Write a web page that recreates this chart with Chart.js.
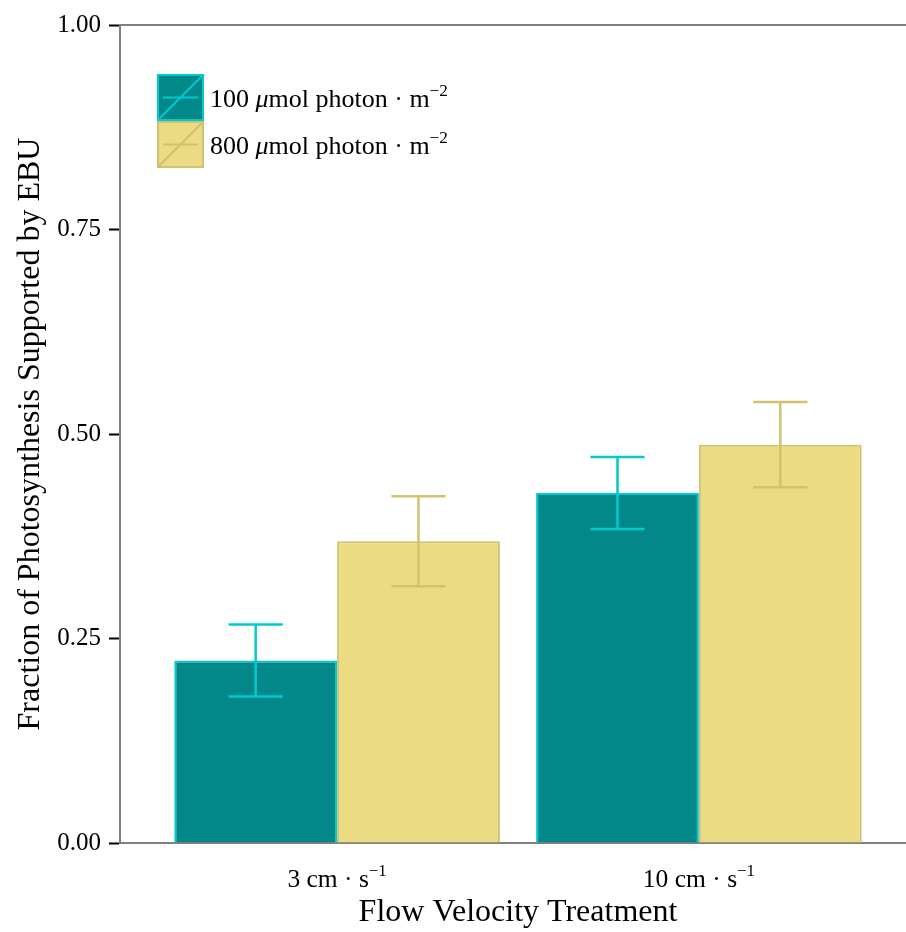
<!DOCTYPE html>
<html>
<head>
<meta charset="utf-8">
<script src="https://cdn.jsdelivr.net/npm/chart.js@4.4.1/dist/chart.umd.min.js"></script>
<style>
  html, body { margin: 0; padding: 0; background: #fff; overflow: hidden; }
  #wrap { width: 916px; height: 932px; }
</style>
</head>
<body>
<div id="wrap"><canvas id="ebuChart"></canvas></div>
<script>
// Flow treatments (x positions) and their labels
const flowPositions = [1, 2];
const flowLabels = ['3 cm · s', '10 cm · s'];
const flowExponent = '−1';

// Light treatments
const lightLevels = ['100', '800'];

// Mean fraction of photosynthesis supported by EBU and error (±)
const lowLightMeans = [0.223, 0.428];
const lowLightErrors = [0.044, 0.044];
const highLightMeans = [0.369, 0.487];
const highLightErrors = [0.055, 0.052];

const yTicks = [0, 0.25, 0.5, 0.75, 1];

const colors = {
    tealFill: '#03888a',
    tealLine: '#00c9cf',
    sandFill: '#ebdb83',
    sandLine: '#d1c272',
    axis: '#808080'
};

const serif = '"Liberation Serif", "Times New Roman", serif';

// text runs made of plain / italic / superscript pieces
function richWidth(ctx, parts, size) {
    let w = 0;
    parts.forEach(p => {
        ctx.font = (p.italic ? 'italic ' : '') + (p.sup ? size * 0.66 : size) + 'px ' + serif;
        w += ctx.measureText(p.t).width;
    });
    return w;
}
function drawRich(ctx, parts, x, baseline, size) {
    parts.forEach(p => {
        const fs = p.sup ? size * 0.66 : size;
        ctx.font = (p.italic ? 'italic ' : '') + fs + 'px ' + serif;
        ctx.fillText(p.t, x, p.sup ? baseline - size * 0.42 : baseline);
        x += ctx.measureText(p.t).width;
    });
}

const errorSets = [lowLightErrors, highLightErrors];

const extrasPlugin = {
    id: 'extras',
    beforeDatasetsDraw(chart) {
        const {ctx, chartArea} = chart;
        // top frame line
        ctx.save();
        ctx.strokeStyle = colors.axis;
        ctx.lineWidth = 2;
        ctx.beginPath();
        ctx.moveTo(chartArea.left, chartArea.top);
        ctx.lineTo(chartArea.right, chartArea.top);
        ctx.stroke();
        ctx.restore();
    },
    afterDatasetsDraw(chart) {
        const {ctx, scales} = chart;
        const y = scales.y;
        ctx.save();
        ctx.lineWidth = 2.5;
        chart.data.datasets.forEach((ds, i) => {
            const meta = chart.getDatasetMeta(i);
            ctx.strokeStyle = ds.borderColor;
            meta.data.forEach((bar, j) => {
                const v = ds.data[j].y;
                const e = errorSets[i][j];
                const top = y.getPixelForValue(v + e);
                const bot = y.getPixelForValue(v - e);
                const half = bar.width / 6;
                ctx.beginPath();
                ctx.moveTo(bar.x, top); ctx.lineTo(bar.x, bot);
                ctx.moveTo(bar.x - half, top); ctx.lineTo(bar.x + half, top);
                ctx.moveTo(bar.x - half, bot); ctx.lineTo(bar.x + half, bot);
                ctx.stroke();
            });
        });
        ctx.restore();
    },
    afterDraw(chart) {
        const {ctx, scales, chartArea} = chart;
        ctx.save();
        ctx.fillStyle = '#000';
        ctx.textBaseline = 'alphabetic';

        // x tick labels with superscript
        flowLabels.forEach((label, i) => {
            const parts = [{t: label}, {t: flowExponent, sup: true}];
            const w = richWidth(ctx, parts, 25.5);
            const cx = scales.x.getPixelForValue(flowPositions[i]);
            drawRich(ctx, parts, cx - w / 2, chartArea.bottom + 44, 25.5);
        });

        // legend
        const kx = chartArea.left + 37, ky = chartArea.top + 49, ks = 47;
        chart.data.datasets.forEach((ds, i) => {
            const top = ky + i * ks;
            ctx.fillStyle = ds.backgroundColor;
            ctx.fillRect(kx, top, ks, ks);
            ctx.strokeStyle = ds.borderColor;
            ctx.lineWidth = 2;
            ctx.strokeRect(kx + 1, top + 1, ks - 2, ks - 2);
            ctx.beginPath();
            ctx.moveTo(kx + 6, top + ks / 2); ctx.lineTo(kx + ks - 6, top + ks / 2);
            ctx.moveTo(kx + 1, top + ks - 1); ctx.lineTo(kx + ks - 1, top + 1);
            ctx.stroke();
            ctx.fillStyle = '#000';
            drawRich(ctx, [
                {t: lightLevels[i] + ' '},
                {t: 'μ', italic: true},
                {t: 'mol photon · m'},
                {t: '−2', sup: true}
            ], kx + ks + 6, top + 33, 26);
        });
        ctx.restore();
    }
};

new Chart(document.getElementById('ebuChart'), {
    type: 'bar',
    data: {
        datasets: [{
            label: lightLevels[0],
            data: flowPositions.map((x, i) => ({x: x, y: lowLightMeans[i]})),
            backgroundColor: colors.tealFill,
            borderColor: colors.tealLine,
            borderWidth: 2
        }, {
            label: lightLevels[1],
            data: flowPositions.map((x, i) => ({x: x, y: highLightMeans[i]})),
            backgroundColor: colors.sandFill,
            borderColor: colors.sandLine,
            borderWidth: 2
        }]
    },
    options: {
        responsive: true,
        maintainAspectRatio: false,
        animation: false,
        categoryPercentage: 0.9,
        barPercentage: 1,
        layout: { padding: { top: 25, left: 0, right: 0, bottom: 0 } },
        plugins: {
            legend: { display: false },
            tooltip: { enabled: false }
        },
        scales: {
            x: {
                type: 'linear',
                offset: false,
                min: 0.4,
                max: 2.6,
                afterBuildTicks: scale => { scale.ticks = flowPositions.map(v => ({value: v})); },
                afterFit: scale => { scale.height = 89; },
                ticks: { display: false },
                grid: { display: false },
                border: { color: colors.axis, width: 2 },
                title: {
                    display: true,
                    text: 'Flow Velocity Treatment',
                    color: '#000',
                    font: { family: serif, size: 32 },
                    padding: { top: 0, bottom: 0 }
                }
            },
            y: {
                min: 0,
                max: 1,
                afterBuildTicks: scale => { scale.ticks = yTicks.map(v => ({value: v})); },
                afterFit: scale => { scale.width = 120; },
                ticks: {
                    color: '#000',
                    padding: 8,
                    font: { family: serif, size: 25 },
                    callback: v => v.toFixed(2)
                },
                grid: {
                    drawOnChartArea: false,
                    tickLength: 11,
                    tickColor: '#000',
                    tickWidth: 2
                },
                border: { color: colors.axis, width: 2 },
                title: {
                    display: true,
                    text: 'Fraction of Photosynthesis Supported by EBU',
                    color: '#000',
                    font: { family: serif, size: 32 },
                    padding: { top: 11, bottom: 0 }
                }
            }
        }
    },
    plugins: [extrasPlugin]
});
</script>
</body>
</html>
